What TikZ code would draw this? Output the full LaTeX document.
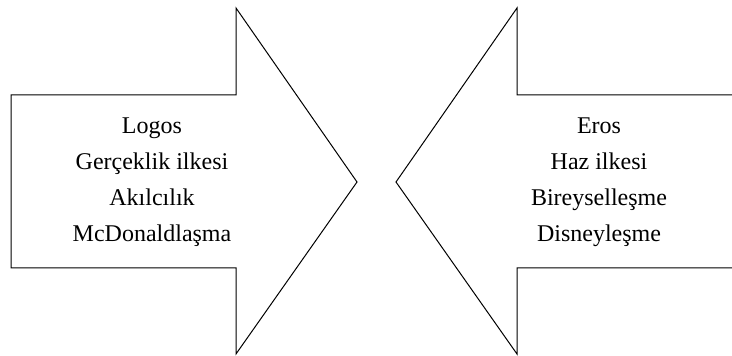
\documentclass[tikz,border=0pt]{standalone}
\usepackage{fontspec}
\setmainfont{Liberation Serif}
\begin{document}
\begin{tikzpicture}[x=1pt,y=1pt,
  arrowshape/.style={draw=black,line width=1pt,line join=miter},
  label/.style={align=center,font=\fontsize{24}{36}\selectfont,inner sep=0pt}]
\useasboundingbox (0,0) rectangle (732,356);
\clip (0,0) rectangle (732,356);
% left arrow
\draw[arrowshape] (11,261) -- (236,261) -- (236,348) -- (357,174) -- (236,2) -- (236,88) -- (11,88) -- cycle;
% right arrow
\draw[arrowshape] (745,261) -- (517,261) -- (517,348) -- (396,174) -- (517,2) -- (517,88) -- (745,88);
\node[label] (left) at (152,174) {Logos\\Gerçeklik ilkesi\\Akılcılık\\McDonaldlaşma};
\node[label] (right) at (599,174) {Eros\\Haz ilkesi\\Bireyselleşme\\Disneyleşme};
\end{tikzpicture}
\end{document}
